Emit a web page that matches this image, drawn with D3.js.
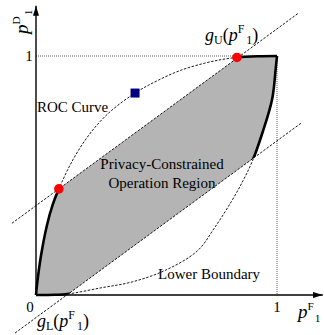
<!DOCTYPE html>
<html>
<head>
<meta charset="utf-8">
<script src="https://cdn.jsdelivr.net/npm/d3@7"></script>
<style>
body { margin: 0; background: #fff; }
svg text { font-family: "Liberation Serif", Tinos, "Times New Roman", "DejaVu Serif", serif; fill: #000; }
</style>
</head>
<body>
<div id="chart"></div>
<script>
// values (p^F_1 on x, p^D_1 on y)
var rocX = [0, 0.005, 0.02, 0.045, 0.07, 0.095, 0.15, 0.22, 0.3, 0.411, 0.5, 0.6, 0.7, 0.77, 0.834, 0.92, 1];
var rocY = [0, 0.05, 0.16, 0.29, 0.38, 0.444, 0.56, 0.67, 0.76, 0.845, 0.895, 0.94, 0.97, 0.985, 0.994, 0.999, 1];

var lowerX = [0, 0.08, 0.13, 0.27, 0.4, 0.54, 0.67, 0.74, 0.81, 0.86, 0.896, 0.94, 0.98, 0.995, 1];
var lowerY = [0, 0.001, 0.004, 0.03, 0.055, 0.105, 0.185, 0.28, 0.39, 0.48, 0.556, 0.68, 0.82, 0.95, 1];

// the two privacy lines g_U and g_L (end points)
var gUx = [-0.1, 1.09], gUy = [0.30, 1.18];
var gLx = [-0.087, 1.104], gLy = [-0.159, 0.722];

var redX = [0.095, 0.834], redY = [0.444, 0.994];
var blueX = [0.411], blueY = [0.845];

var tickValues = [0, 1];

var width = 324, height = 335;
var serif = "'Liberation Serif', Tinos, 'Times New Roman', 'DejaVu Serif', serif";

var svg = d3.select("#chart")
    .append("svg")
    .attr("width", width)
    .attr("height", height)
    .attr("font-family", serif);

var x = d3.scaleLinear().domain([0, 1]).range([36, 277]),
    y = d3.scaleLinear().domain([0, 1]).range([295, 56]);

function pts(xs, ys) {
    return xs.map(function(d, i) { return [d, ys[i]]; });
}

var curve = d3.line()
    .x(function(d) { return x(d[0]); })
    .y(function(d) { return y(d[1]); })
    .curve(d3.curveCatmullRom);

var straight = d3.line()
    .x(function(d) { return x(d[0]); })
    .y(function(d) { return y(d[1]); });

var roc = pts(rocX, rocY),
    lower = pts(lowerX, lowerY),
    gU = pts(gUx, gUy),
    gL = pts(gLx, gLy);

var defs = svg.append("defs");

// band between g_L and g_U
defs.append("clipPath")
    .attr("id", "band")
    .append("path")
    .attr("d", straight([gU[0], gU[1], gL[1], gL[0]]) + "Z");

defs.append("marker")
    .attr("id", "arrow")
    .attr("viewBox", "0 0 10 6")
    .attr("refX", 10)
    .attr("refY", 3)
    .attr("markerWidth", 10)
    .attr("markerHeight", 7)
    .attr("markerUnits", "userSpaceOnUse")
    .attr("orient", "auto")
    .append("path")
    .attr("d", "M0,0L10,3L0,6Z")
    .attr("fill", "#000");

// operation region
var regionPath = curve(roc) + "L" + curve(lower.slice().reverse()).slice(1) + "Z";

svg.append("path")
    .attr("d", regionPath)
    .attr("clip-path", "url(#band)")
    .attr("fill", "#b4b4b4");

// dotted guides at 1
svg.append("path")
    .attr("d", straight([[0, 1], [1, 1], [1, 0]]))
    .attr("fill", "none")
    .attr("stroke", "#333")
    .attr("stroke-width", 0.8)
    .attr("stroke-dasharray", "1,1");

// dashed curves and lines
[roc, lower, gU, gL].forEach(function(c, i) {
    svg.append("path")
        .attr("d", i < 2 ? curve(c) : straight(c))
        .attr("fill", "none")
        .attr("stroke", "#000")
        .attr("stroke-width", 0.9)
        .attr("stroke-dasharray", "2.5,1.5");
});

// thick boundary parts inside the band
[roc, lower].forEach(function(c) {
    svg.append("path")
        .attr("d", curve(c))
        .attr("clip-path", "url(#band)")
        .attr("fill", "none")
        .attr("stroke", "#000")
        .attr("stroke-width", 2.6);
});

// axes
svg.append("line")
    .attr("x1", x(0)).attr("y1", y(0))
    .attr("x2", x(1.19)).attr("y2", y(0))
    .attr("stroke", "#000")
    .attr("stroke-width", 1.4)
    .attr("marker-end", "url(#arrow)");

svg.append("line")
    .attr("x1", x(0)).attr("y1", y(0))
    .attr("x2", x(0)).attr("y2", y(1.21))
    .attr("stroke", "#000")
    .attr("stroke-width", 1.4)
    .attr("marker-end", "url(#arrow)");

// points
svg.selectAll(".red")
    .data(pts(redX, redY))
    .enter().append("circle")
    .attr("cx", function(d) { return x(d[0]); })
    .attr("cy", function(d) { return y(d[1]); })
    .attr("r", 4.8)
    .attr("fill", "#ff0000");

svg.selectAll(".blue")
    .data(pts(blueX, blueY))
    .enter().append("rect")
    .attr("x", function(d) { return x(d[0]) - 4.5; })
    .attr("y", function(d) { return y(d[1]) - 4.5; })
    .attr("width", 9)
    .attr("height", 9)
    .attr("fill", "#00007f");

// tick labels
svg.append("text")
    .attr("x", x(0) - 6).attr("y", y(0) + 17)
    .attr("text-anchor", "middle")
    .attr("font-size", 15)
    .text(tickValues[0]);

svg.append("text")
    .attr("x", x(1)).attr("y", y(0) + 17)
    .attr("text-anchor", "middle")
    .attr("font-size", 15)
    .text(tickValues[1]);

svg.append("text")
    .attr("x", x(0) - 7).attr("y", y(1) + 5)
    .attr("text-anchor", "middle")
    .attr("font-size", 15)
    .text(tickValues[1]);

// p^F_1 style label
function sym(g, letter, sup, sub, size) {
    var t = g.append("text").attr("font-size", size);
    t.append("tspan").attr("font-style", "italic").text(letter);
    t.append("tspan").attr("font-size", size * 0.6).attr("dy", -size * 0.42).text(sup);
    t.append("tspan").attr("font-size", size * 0.6).attr("dy", size * 0.62).attr("dx", 1).text(sub);
    return t;
}

sym(svg.append("g").attr("transform", "translate(298,318)"), "p", "F", "1", 19);
sym(svg.append("g").attr("transform", "translate(28,34) rotate(-90)"), "p", "D", "1", 19);

function gLabel(px, py, sub) {
    var t = svg.append("text")
        .attr("x", px).attr("y", py)
        .attr("font-size", 18);
    t.append("tspan").attr("font-style", "italic").text("g");
    t.append("tspan").attr("font-size", 12).attr("dy", 3).text(sub);
    t.append("tspan").attr("dy", -3).text("(");
    t.append("tspan").attr("font-style", "italic").text("p");
    t.append("tspan").attr("font-size", 12).attr("dy", -8).text("F");
    t.append("tspan").attr("font-size", 12).attr("dy", 11).attr("dx", 2).text("1");
    t.append("tspan").attr("dy", -3).text(")");
}

gLabel(205, 41, "U");
gLabel(37, 327, "L");

svg.append("text")
    .attr("x", 37).attr("y", 112)
    .attr("font-size", 15)
    .text("ROC Curve");

svg.append("text")
    .attr("x", 162).attr("y", 169)
    .attr("text-anchor", "middle")
    .attr("font-size", 15)
    .text("Privacy-Constrained");

svg.append("text")
    .attr("x", 162).attr("y", 188)
    .attr("text-anchor", "middle")
    .attr("font-size", 15)
    .text("Operation Region");

svg.append("text")
    .attr("x", 158).attr("y", 279)
    .attr("font-size", 15)
    .text("Lower Boundary");
</script>
</body>
</html>
